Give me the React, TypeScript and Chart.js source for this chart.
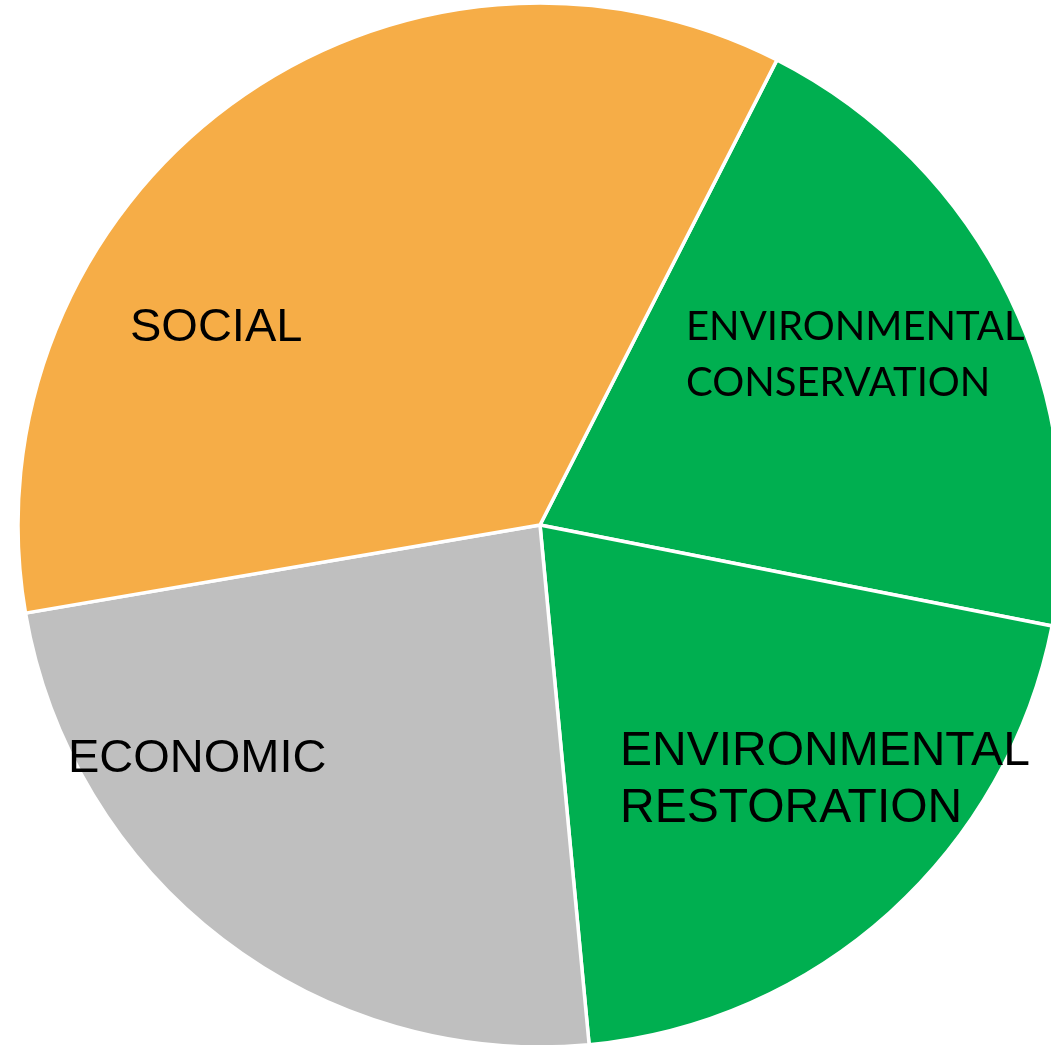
import React, { useEffect, useRef } from "react";
import { Chart, registerables } from "chart.js";

Chart.register(...registerables);

const categories = [
  "ENVIRONMENTAL CONSERVATION",
  "ENVIRONMENTAL RESTORATION",
  "ECONOMIC",
  "SOCIAL",
];
const shares = [20.6, 20.4, 23.8, 35.2];
const sliceColors = ["#00AF50", "#00AF50", "#BFBFBF", "#F6AD47"];

// label text lines per category (display), with placement relative to the pie centre
const labelLines = [
  ["ENVIRONMENTAL", "CONSERVATION"],
  ["ENVIRONMENTAL", "RESTORATION"],
  ["ECONOMIC"],
  ["SOCIAL"],
];
const labelStyles = [
  { dx: 146, dy: -185, font: "40px Lato, 'Open Sans', sans-serif", lineGap: 56 },
  { dx: 80, dy: 240, font: "48px 'Liberation Sans', Arial, sans-serif", lineGap: 57 },
  { dx: -472, dy: 247, font: "47px 'Liberation Sans', Arial, sans-serif", lineGap: 57 },
  { dx: -410, dy: -184, font: "47px 'Liberation Sans', Arial, sans-serif", lineGap: 57 },
];

const sliceLabels = {
  id: "sliceLabels",
  afterDraw(chart: any) {
    const meta = chart.getDatasetMeta(0);
    const arc = meta.data[0];
    if (!arc) return;
    const cx = arc.x;
    const cy = arc.y;
    const ctx = chart.ctx;
    ctx.save();
    ctx.fillStyle = "#000000";
    ctx.textAlign = "left";
    ctx.textBaseline = "alphabetic";
    labelLines.forEach((lines, i) => {
      const st = labelStyles[i];
      ctx.font = st.font;
      lines.forEach((line, j) => {
        ctx.fillText(line, cx + st.dx, cy + st.dy + j * st.lineGap);
      });
    });
    ctx.restore();
  },
};

export default function App() {
  const ref = useRef<HTMLCanvasElement>(null);
  useEffect(() => {
    if (!ref.current) return;
    const chart = new Chart(ref.current, {
      type: "pie",
      data: {
        labels: categories,
        datasets: [
          {
            data: shares,
            backgroundColor: sliceColors,
            borderColor: "#FFFFFF",
            borderWidth: 3.5,
          },
        ],
      },
      options: {
        responsive: false,
        animation: false,
        rotation: 27,
        radius: 522,
        layout: { padding: 0 },
        plugins: {
          legend: { display: false },
          tooltip: { enabled: false },
          title: { display: false },
        },
      },
      plugins: [sliceLabels],
    });
    return () => chart.destroy();
  }, []);
  return (
    <div
      style={{
        position: "fixed",
        left: 0,
        top: 0,
        width: 1051,
        height: 1045,
        overflow: "hidden",
        background: "#FFFFFF",
      }}
    >
      <canvas ref={ref} width={1080} height={1050} style={{ display: "block" }} />
    </div>
  );
}
